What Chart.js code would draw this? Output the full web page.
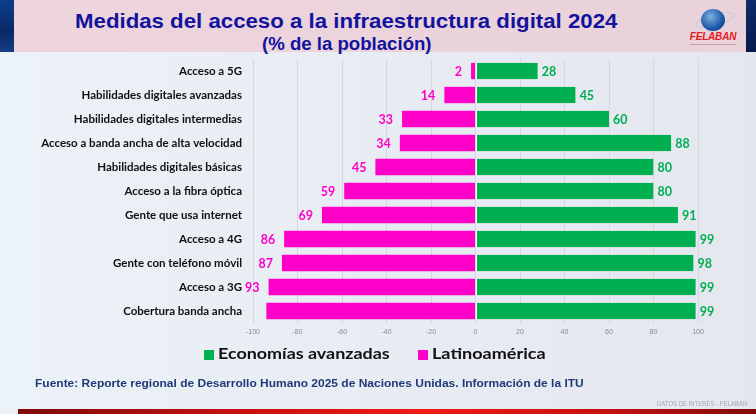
<!DOCTYPE html>
<html lang="es">
<head>
  <meta charset="UTF-8">
  <title>Medidas del acceso a la infraestructura digital 2024</title>
  <script src="https://cdn.jsdelivr.net/npm/chart.js@4.4.1/dist/chart.umd.min.js"></script>
  <style>
    html, body { margin: 0; padding: 0; }
    body {
      width: 756px; height: 414px; position: relative; overflow: hidden;
      background: linear-gradient(90deg, #ecf3f8 0%, #e9edf4 35%, #e5e7ef 100%);
      font-family: 'Lato', sans-serif;
    }
    #header {
      position: absolute; left: 14px; top: 0; width: 732px; height: 52px;
      background: linear-gradient(90deg, #eed5dd 0%, #ebd3db 60%, #ead2da 100%);
    }
    #stripL { position: absolute; left: 0; top: 0; width: 14px; height: 52px;
      background: linear-gradient(180deg, #0b3f8a, #0a2a66 60%, #123f86); }
    #stripR { position: absolute; right: 0; top: 0; width: 10px; height: 52px;
      background: linear-gradient(180deg, #0d2c6a, #061b4a); }
    .fit { position: absolute; white-space: nowrap; transform-origin: 0 0; line-height: 1; }
    #t1 { left: 75px; top: 9.5px; font-family: 'Liberation Sans', sans-serif; font-weight: bold;
      font-size: 21px; color: #12129c; }
    #t2 { left: 262px; top: 34.5px; font-family: 'Liberation Sans', sans-serif; font-weight: bold;
      font-size: 18.5px; color: #12129c; }
    #globe { position: absolute; left: 701px; top: 9px; width: 24px; height: 22px; border-radius: 50%;
      background: radial-gradient(circle at 40% 35%, #7fb0e0, #1a57a8 60%, #0c2f6e); }
    #ring { position: absolute; left: 695px; top: 14px; width: 38px; height: 10px; border-radius: 50%;
      border: 1px solid #b8c8e0; transform: rotate(-15deg); }
    #logoTxt { position: absolute; left: 686px; top: 31px; width: 54px; text-align: center;
      font-family: 'Liberation Sans', sans-serif; font-weight: bold; font-style: italic;
      font-size: 10px; color: #e31b23; letter-spacing: -0.2px; }
    #logoSub { position: absolute; left: 690px; top: 44px; width: 46px; height: 1px; background: #c9a0a8; }
    #chartBox { position: absolute; left: 0; top: 0; width: 756px; height: 414px; }
    .sw { position: absolute; width: 10px; height: 10px; }
    .lg { top: 346px; font-family: 'Lato', sans-serif; font-weight: bold; font-size: 15px; color: #111; }
    #lg1 { left: 218px; }
    #lg2 { left: 432px; }
    #source { left: 35px; top: 378px; font-family: 'Liberation Sans', sans-serif; font-weight: bold;
      font-size: 10.5px; color: #1f3a78; }
    #datos { left: 657px; top: 400px; font-family: 'Liberation Sans', sans-serif;
      font-size: 7.5px; color: #a8a8ae; }
    #bottomBar { position: absolute; left: 18px; top: 409px; width: 738px; height: 5px;
      background: linear-gradient(90deg, #7e0a0a 0%, #c81010 30%, #f01a14 55%, #c51010 80%, #820a0a 100%); }
  </style>
</head>
<body>
<div id="header"></div>
<div id="stripL"></div>
<div id="stripR"></div>
<div id="t1" class="fit" data-w="542">Medidas del acceso a la infraestructura digital 2024</div>
<div id="t2" class="fit" data-w="170">(% de la población)</div>
<div id="ring"></div>
<div id="globe"></div>
<div id="logoTxt">FELABAN</div>
<div id="logoSub"></div>
<div id="chartBox"><canvas id="myChart" width="756" height="414"></canvas></div>
<div class="sw" style="left:204px; top:350px; background:#00b050"></div>
<div id="lg1" class="fit lg" data-w="172">Economías avanzadas</div>
<div class="sw" style="left:418px; top:350px; background:#ff00c8"></div>
<div id="lg2" class="fit lg" data-w="113">Latinoamérica</div>
<div id="source" class="fit" data-w="549">Fuente: Reporte regional de Desarrollo Humano 2025 de Naciones Unidas. Información de la ITU</div>
<div id="datos" class="fit" data-w="90">DATOS DE INTERÉS - FELABAN</div>
<div id="bottomBar"></div>

<script>
    // categories, top to bottom
    const categories = [
      'Acceso a 5G',
      'Habilidades digitales avanzadas',
      'Habilidades digitales intermedias',
      'Acceso a banda ancha de alta velocidad',
      'Habilidades digitales básicas',
      'Acceso a la fibra óptica',
      'Gente que usa internet',
      'Acceso a 4G',
      'Gente con teléfono móvil',
      'Acceso a 3G',
      'Cobertura banda ancha'
    ];
    const avanzadas = [28, 45, 60, 88, 80, 80, 91, 99, 98, 99, 99];
    const latam = [2, 14, 33, 34, 45, 59, 69, 86, 87, 93, 94];
    // shown labels (last latam label is not shown in the original)
    const avanzadasLabels = ['28', '45', '60', '88', '80', '80', '91', '99', '98', '99', '99'];
    const latamLabels = ['2', '14', '33', '34', '45', '59', '69', '86', '87', '93', ''];
    const xTicks = [-100, -80, -60, -40, -20, 0, 20, 40, 60, 80, 100];

    const greenColor = '#00b050';
    const pinkColor = '#ff00c8';

    // stretch the html texts to the widths they have in the slide
    function fitTexts() {
      document.querySelectorAll('.fit').forEach(el => {
        el.style.transform = 'none';
        const w = el.offsetWidth;
        el.style.transform = 'scaleX(' + (el.dataset.w / w) + ')';
      });
    }
    fitTexts();
    document.fonts.ready.then(fitTexts);

    const valueLabels = {
      id: 'valueLabels',
      afterDatasetsDraw: (chart) => {
        const ctx = chart.ctx;
        ctx.save();
        ctx.font = 'bold 12.5px Lato, sans-serif';
        ctx.textBaseline = 'middle';
        chart.getDatasetMeta(0).data.forEach((bar, i) => {
          ctx.fillStyle = greenColor;
          ctx.textAlign = 'left';
          ctx.fillText(avanzadasLabels[i], bar.x + 4, bar.y + 1);
        });
        chart.getDatasetMeta(1).data.forEach((bar, i) => {
          ctx.fillStyle = pinkColor;
          ctx.textAlign = 'right';
          ctx.fillText(latamLabels[i], bar.x - 9, bar.y + 1);
        });
        ctx.restore();
      }
    };

    var ctx = document.getElementById('myChart');
    var myChart = new Chart(ctx, {
      type: 'bar',
      data: {
        labels: categories,
        datasets: [{
          label: 'Economías avanzadas',
          data: avanzadas,
          backgroundColor: greenColor,
          borderColor: '#f4f4f8',
          borderWidth: {left: 1, right: 0, top: 0, bottom: 0},
          borderSkipped: false,
          barPercentage: 0.68,
          categoryPercentage: 1
        }, {
          label: 'Latinoamérica',
          data: latam.map(v => -v),
          backgroundColor: pinkColor,
          borderWidth: 0,
          barPercentage: 0.68,
          categoryPercentage: 1
        }]
      },
      options: {
        indexAxis: 'y',
        responsive: false,
        animation: false,
        devicePixelRatio: 1,
        layout: {padding: {left: 0, top: 59, right: 58, bottom: 77}},
        scales: {
          x: {
            stacked: true,
            min: -100,
            max: 100,
            afterBuildTicks: (scale) => { scale.ticks = xTicks.map(v => ({value: v})); },
            afterFit: (scale) => { scale.height = 14; },
            grid: {color: '#d6d6dc', lineWidth: 1, drawTicks: false},
            border: {display: false},
            ticks: {
              padding: 5,
              color: '#8a8a90',
              font: {size: 7, family: 'Liberation Sans'}
            }
          },
          y: {
            stacked: true,
            afterFit: (scale) => { scale.width = 253; },
            grid: {display: false, drawTicks: false},
            border: {display: false},
            ticks: {
              padding: 11,
              color: '#111111',
              font: {size: 11.5, family: 'Lato', weight: 'bold'}
            }
          }
        },
        plugins: {
          legend: {display: false},
          tooltip: {enabled: false}
        }
      },
      plugins: [valueLabels]
    });
</script>
</body>
</html>
